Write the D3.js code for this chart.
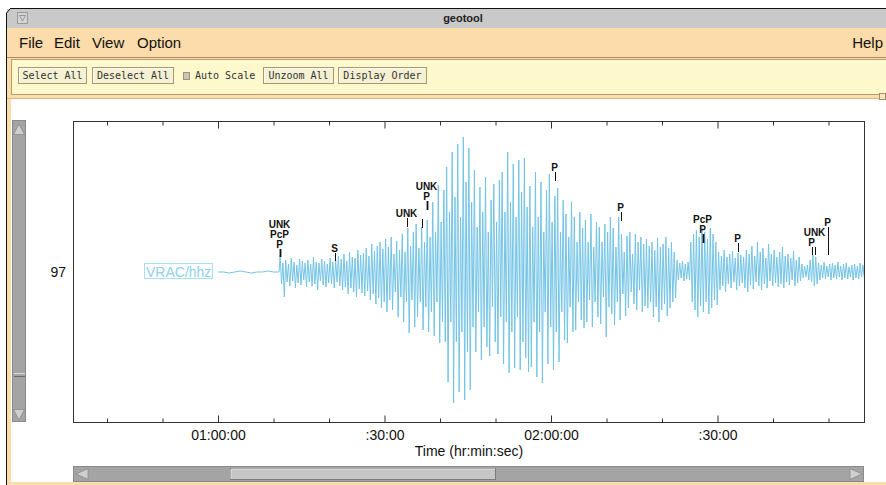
<!DOCTYPE html>
<html>
<head>
<meta charset="utf-8">
<script src="https://cdn.jsdelivr.net/npm/d3@7/dist/d3.min.js"></script>
<style>
  html, body { margin: 0; padding: 0; background: #fff; }
  svg { display: block; }
  .ui { font-family: "Liberation Sans", Helvetica, Arial, sans-serif; }
  .mono { font-family: "DejaVu Sans Mono", "Liberation Mono", monospace; font-size: 10px; fill: #333; }
</style>
</head>
<body>
<div id="chart"></div>
<script>
// ---- data (time in minutes after 00:00:00) ----
var stationLabel = "VRAC/hhz";
var traceNumber = "97";

var majorTicks = [60, 90, 120, 150];
var tickLabels = ["01:00:00", ":30:00", "02:00:00", ":30:00"];
var minorTicks = [40, 50, 70, 80, 100, 110, 130, 140, 160, 170];

// quiet part before the first arrival, one sample per minute from 01:00
var preStart = 60, preStep = 1;
var preEvent = [0, 0, -1, 0, 1, 0, -1, 0, 0, 1, 0, 0];

// after the onset: one upward and one downward swing every half minute
var traceStart = 71.2, traceStep = 0.5;
var peakUp = [
  17, 9, 12, 8, 14, 10, 7, 13, 11, 9,
  12, 8, 15, 10, 9, 13, 11, 8, 14, 10,
  12, 16, 13, 18, 11, 20, 15, 14, 22, 17,
  19, 24, 16, 28, 21, 26, 30, 23, 33, 25,
  35, 18, 31, 22, 38, 20, 44, 26, 40, 48,
  24, 45, 30, 52, 35, 70, 40, 87, 50, 82,
  105, 60, 120, 75, 128, 55, 135, 90, 124, 70,
  102, 45, 85, 60, 95, 40, 72, 88, 50, 92,
  100, 60, 120, 70, 108, 55, 112, 80, 114, 65,
  86, 45, 100, 55, 90, 40, 82, 98, 50, 76,
  84, 40, 72, 58, 35, 70, 55, 30, 60, 44,
  52, 30, 58, 25, 50, 45, 30, 48, 40, 55,
  44, 25, 55, 38, 20, 36, 40, 18, 38, 30,
  35, 28, 33, 26, 30, 22, 34, 25, 28, 35,
  24, 30, 20, 12, 9, 11, 8, 10, 30, 38,
  42, 35, 45, 40, 33, 44, 38, 30, 20, 16,
  22, 15, 18, 21, 14, 19, 17, 15, 22, 18,
  26, 16, 30, 20, 24, 14, 28, 18, 22, 15,
  20, 25, 16, 18, 14, 21, 12, 15, 8, 6,
  7, 12, 17, 15, 9, 7, 10, 6, 8, 9,
  7, 10, 6, 8, 9, 5, 7, 8, 6, 9, 7
];
var peakDown = [
  -12, -25, -10, -14, -9, -16, -11, -13, -8, -15,
  -10, -14, -12, -18, -9, -13, -15, -11, -12, -16,
  -10, -14, -18, -15, -22, -16, -20, -25, -17, -21,
  -24, -19, -28, -22, -32, -26, -36, -30, -40, -28,
  -38, -20, -45, -25, -50, -30, -61, -28, -55, -45,
  -30, -58, -35, -60, -40, -64, -30, -71, -50, -70,
  -110, -50, -131, -70, -120, -60, -128, -80, -118, -55,
  -80, -40, -88, -55, -75, -84, -35, -70, -82, -45,
  -92, -50, -101, -60, -96, -45, -98, -70, -86, -100,
  -95, -50, -105, -60, -111, -40, -92, -55, -98, -60,
  -90, -40, -68, -71, -35, -60, -58, -30, -48, -56,
  -50, -28, -55, -30, -45, -52, -25, -65, -35, -42,
  -53, -30, -48, -22, -44, -36, -20, -32, -38, -18,
  -40, -34, -36, -30, -45, -35, -50, -38, -32, -44,
  -36, -30, -26, -8, -6, -9, -7, -8, -30, -38,
  -45, -34, -40, -30, -42, -36, -28, -33, -18, -14,
  -20, -12, -16, -10, -18, -14, -11, -16, -20, -13,
  -17, -10, -14, -18, -12, -16, -9, -14, -11, -15,
  -12, -16, -10, -13, -8, -14, -11, -9, -6, -5,
  -8, -10, -14, -12, -8, -6, -7, -5, -8, -6,
  -7, -5, -8, -6, -7, -5, -8, -6, -7, -5, -6
];

// phase picks: time, phases stacked bottom to top, marker amplitude range
var pickTimes  = [71.17, 81.08, 94.05, 96.76, 97.66, 120.72, 132.61, 147.39, 153.69, 167.03, 167.57, 169.91];
var pickPhases = ["P/PcP/UNK", "S", "UNK", "", "P/UNK", "P", "P", "P/PcP", "P", "P", "UNK", "P"];
var pickTop    = [23, 19, 54, 53, 71, 100, 60, 38, 29, 25, 25, 45];
var pickBottom = [15, 11, 45, 44, 62, 91, 51, 29, 20, 17, 17, 17];

// ---- drawing ----
var W = 886, H = 485;
var plot = {left: 73, right: 864, top: 121, bottom: 422};

var svg = d3.select("#chart").append("svg")
    .attr("width", W).attr("height", H)
    .attr("class", "ui");

// window chrome
svg.append("rect").attr("x", 7).attr("y", 9).attr("width", W - 7).attr("height", 19).attr("fill", "#c9c9c9");
svg.append("line").attr("x1", 10).attr("x2", W).attr("y1", 8.5).attr("y2", 8.5).attr("stroke", "#111");
svg.append("path").attr("d", "M6.5,485V13L10,9").attr("fill", "none").attr("stroke", "#111");
svg.append("rect").attr("x", 17.5).attr("y", 12.5).attr("width", 10).attr("height", 11)
    .attr("fill", "#d4d4d4").attr("stroke", "#9a9a9a");
svg.append("path").attr("d", "M19.5,15.5H25.5L22.5,21Z").attr("fill", "none").attr("stroke", "#888").attr("stroke-width", 0.8);
svg.append("text").attr("x", 463).attr("y", 22).attr("text-anchor", "middle")
    .attr("font-size", 11).attr("font-weight", "bold").attr("fill", "#222").text("geotool");

// menu bar
svg.append("rect").attr("x", 7).attr("y", 28).attr("width", W - 7).attr("height", 29).attr("fill", "#fcdcaa");
var menus = [["File", 19], ["Edit", 54], ["View", 92], ["Option", 137]];
menus.forEach(function(m) {
    svg.append("text").attr("x", m[1]).attr("y", 48).attr("font-size", 15).attr("fill", "#111").text(m[0]);
});
svg.append("text").attr("x", 883).attr("y", 48).attr("text-anchor", "end").attr("font-size", 15).attr("fill", "#111").text("Help");

// tool bar
svg.append("rect").attr("x", 7).attr("y", 57).attr("width", W - 7).attr("height", 42).attr("fill", "#fcdcaa");
svg.append("rect").attr("x", 11.5).attr("y", 59.5).attr("width", W - 10).attr("height", 35)
    .attr("fill", "#fdf9cd").attr("stroke", "#b89c70");
svg.append("line").attr("x1", 7).attr("x2", W).attr("y1", 57.5).attr("y2", 57.5).attr("stroke", "#a88c60");
svg.append("line").attr("x1", 7).attr("x2", W).attr("y1", 98.5).attr("y2", 98.5).attr("stroke", "#d6b888");
svg.append("rect").attr("x", 879.5).attr("y", 93.5).attr("width", 6).attr("height", 6)
    .attr("fill", "#f2e6c4").attr("stroke", "#a89068");

function button(x, w, label) {
    var g = svg.append("g");
    g.append("rect").attr("x", x + 0.5).attr("y", 67.5).attr("width", w).attr("height", 16)
        .attr("fill", "#f6f1d2").attr("stroke", "#a89878");
    g.append("path").attr("d", "M" + (x + 1.5) + "," + 82.5 + "V68.5H" + (x + w - 0.5))
        .attr("fill", "none").attr("stroke", "#fffef0");
    g.append("text").attr("class", "mono").attr("x", x + w / 2 + 0.5).attr("y", 79)
        .attr("text-anchor", "middle").text(label);
}
button(18, 68, "Select All");
button(92, 81, "Deselect All");
svg.append("rect").attr("x", 183.5).attr("y", 72.5).attr("width", 6).attr("height", 7)
    .attr("fill", "#c8c4b0").attr("stroke", "#9a9480");
svg.append("text").attr("class", "mono").attr("x", 195).attr("y", 79).text("Auto Scale");
button(263, 70, "Unzoom All");
button(338, 88, "Display Order");

// left border strip and bottom strip
svg.append("rect").attr("x", 7).attr("y", 99).attr("width", 4).attr("height", H - 99).attr("fill", "#fcdcaa");
svg.append("rect").attr("x", 7).attr("y", 482).attr("width", W - 7).attr("height", 3).attr("fill", "#fcdcaa");

// vertical scroll bar
svg.append("rect").attr("x", 12.5).attr("y", 120.5).attr("width", 13).attr("height", 301)
    .attr("fill", "#a4a4a4").attr("stroke", "#8a8a8a");
svg.append("path").attr("d", "M19,124L13.5,134.5H24.5Z").attr("fill", "#cfcfcf").attr("stroke", "#8a8a8a").attr("stroke-width", 0.8);
svg.append("path").attr("d", "M13.5,409.5H24.5L19,420Z").attr("fill", "#cfcfcf").attr("stroke", "#8a8a8a").attr("stroke-width", 0.8);
svg.append("line").attr("x1", 14).attr("x2", 25).attr("y1", 373.5).attr("y2", 373.5).attr("stroke", "#dcdcdc");
svg.append("line").attr("x1", 14).attr("x2", 25).attr("y1", 376.5).attr("y2", 376.5).attr("stroke", "#6e6e6e");

// horizontal scroll bar
svg.append("rect").attr("x", 73.5).attr("y", 466.5).attr("width", 790).attr("height", 15)
    .attr("fill", "#a4a4a4").attr("stroke", "#8a8a8a");
svg.append("rect").attr("x", 230.5).attr("y", 468.5).attr("width", 265).attr("height", 11)
    .attr("fill", "#c6c6c6").attr("stroke", "#7a7a7a");
svg.append("path").attr("d", "M231,479V469H495").attr("fill", "none").attr("stroke", "#e2e2e2");
svg.append("path").attr("d", "M76,474L88,468.5V479.5Z").attr("fill", "#cfcfcf").attr("stroke", "#8a8a8a").attr("stroke-width", 0.8);
svg.append("path").attr("d", "M862,474L850,468.5V479.5Z").attr("fill", "#cfcfcf").attr("stroke", "#8a8a8a").attr("stroke-width", 0.8);

// scales
var x = d3.scaleLinear()
    .domain([60 + (plot.left - 218) / 5.55, 60 + (plot.right - 218) / 5.55])
    .range([plot.left, plot.right]);
var y = d3.scaleLinear().domain([-150, 150]).range([plot.bottom, plot.bottom - 300]);

// frame
svg.append("rect").attr("x", plot.left + 0.5).attr("y", plot.top + 0.5)
    .attr("width", plot.right - plot.left).attr("height", plot.bottom - plot.top)
    .attr("fill", "#fff").attr("stroke", "#333");

// axes
function styleAxis(g) {
    g.select(".domain").remove();
    g.selectAll("line").attr("stroke", "#333");
    g.selectAll("text").attr("font-family", "'Liberation Sans', Helvetica, Arial, sans-serif")
        .attr("font-size", 14).attr("fill", "#111");
}
svg.append("g").attr("transform", "translate(0," + (plot.top + 0.5) + ")")
    .call(d3.axisBottom(x).tickValues(majorTicks).tickSizeInner(7).tickSizeOuter(0).tickFormat(""))
    .call(styleAxis);
svg.append("g").attr("transform", "translate(0," + (plot.top + 0.5) + ")")
    .call(d3.axisBottom(x).tickValues(minorTicks).tickSizeInner(4).tickSizeOuter(0).tickFormat(""))
    .call(styleAxis);
svg.append("g").attr("transform", "translate(0," + (plot.bottom + 0.5) + ")")
    .call(d3.axisBottom(x).tickValues(majorTicks).tickSizeInner(-7).tickSizeOuter(0).tickPadding(8)
        .tickFormat(function(d, i) { return tickLabels[i]; }))
    .call(styleAxis);
svg.append("g").attr("transform", "translate(0," + (plot.bottom + 0.5) + ")")
    .call(d3.axisBottom(x).tickValues(minorTicks).tickSizeInner(-4).tickSizeOuter(0).tickFormat(""))
    .call(styleAxis);

svg.append("text").attr("x", 469).attr("y", 456).attr("text-anchor", "middle")
    .attr("font-size", 14).attr("fill", "#111").text("Time (hr:min:sec)");

svg.append("text").attr("x", 66).attr("y", 277).attr("text-anchor", "end")
    .attr("font-size", 14).attr("fill", "#111").text(traceNumber);

// station label box
var lab = svg.append("text").attr("x", 146).attr("y", 276.5)
    .attr("font-size", 14).attr("fill", "#8fd0ec").text(stationLabel);
var bb = lab.node().getBBox();
svg.append("rect").attr("x", Math.round(bb.x) - 1.5).attr("y", 263.5)
    .attr("width", Math.round(bb.width) + 3).attr("height", 15)
    .attr("fill", "none").attr("stroke", "#a8dcf0");

// waveform
var pts = [];
preEvent.forEach(function(v, i) { pts.push([preStart + i * preStep, v]); });
peakUp.forEach(function(v, i) {
    pts.push([traceStart + i * traceStep, v]);
    pts.push([traceStart + i * traceStep + traceStep / 2, peakDown[i]]);
});
svg.append("clipPath").attr("id", "clip").append("rect")
    .attr("x", plot.left + 1).attr("y", plot.top + 1)
    .attr("width", plot.right - plot.left - 1).attr("height", plot.bottom - plot.top - 1);
svg.append("path").datum(pts)
    .attr("clip-path", "url(#clip)")
    .attr("fill", "none").attr("stroke", "#74c4e6").attr("stroke-width", 1)
    .attr("d", d3.line().x(function(d) { return x(d[0]); }).y(function(d) { return y(d[1]); }));

// phase picks: labels stack upward, a label is lifted when it hits one already placed
var placed = [];
function overlaps(a, b) {
    return a.x < b.x + b.width && b.x < a.x + a.width && a.y < b.y + b.height && b.y < a.y + a.height;
}
pickTimes.forEach(function(t, i) {
    var px = Math.round(x(t)) + 0.5;
    var phases = pickPhases[i] ? pickPhases[i].split("/") : [];
    svg.append("line").attr("x1", px).attr("x2", px)
        .attr("y1", y(pickTop[i])).attr("y2", y(pickBottom[i]))
        .attr("stroke", "#111").attr("stroke-width", phases.length > 1 ? 1.8 : 1);
    var base = y(pickTop[i]) - 1;
    phases.forEach(function(p) {
        var txt = svg.append("text").attr("x", px - 1).attr("y", base)
            .attr("text-anchor", "middle").attr("font-size", 10).attr("font-weight", "bold")
            .attr("fill", "#111").text(p);
        var w = txt.node().getBBox();
        var box = {x: w.x, y: base - 7.5, width: w.width, height: 8};
        while (placed.some(function(o) { return overlaps(o, box); })) {
            base -= 10;
            txt.attr("y", base);
            box.y = base - 7.5;
        }
        placed.push(box);
        base -= 10;
    });
});
</script>
</body>
</html>
